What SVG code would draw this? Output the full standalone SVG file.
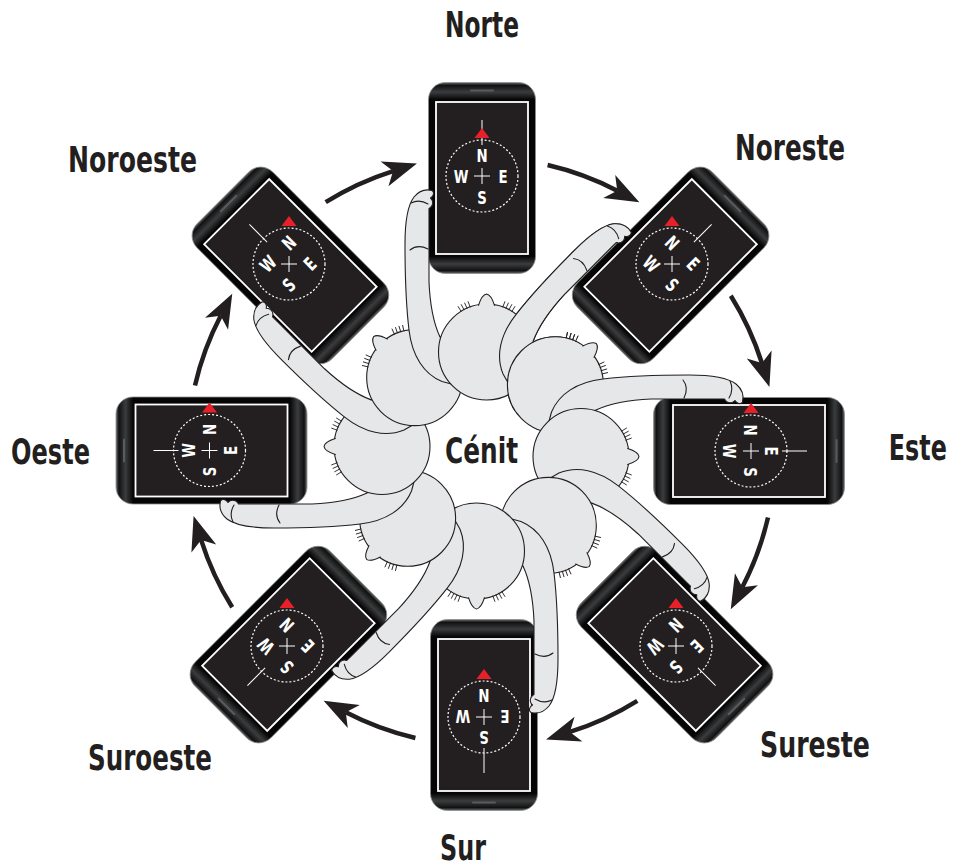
<svg xmlns="http://www.w3.org/2000/svg" xmlns:xlink="http://www.w3.org/1999/xlink" width="955" height="868" viewBox="0 0 955 868">
  <defs>
    <style>
      .lbl{font-family:"Liberation Sans Narrow","DejaVu Sans Condensed","Roboto Condensed","Liberation Sans",sans-serif;font-weight:700;font-size:36px;fill:#231f20;font-stretch:condensed}
      .cl{font-family:"Liberation Sans Narrow","DejaVu Sans Condensed","Roboto Condensed","Liberation Sans",sans-serif;font-weight:700;font-size:18.5px;fill:#fff;text-anchor:middle;font-stretch:condensed}
      .skin{fill:#e6e7e8;stroke:#231f20;stroke-width:1.1;stroke-linejoin:round}
      .line{fill:none;stroke:#231f20;stroke-width:1.1;stroke-linecap:round}
      .tick{fill:none;stroke:#231f20;stroke-width:0.9}
      .ring{fill:none;stroke:#fff;stroke-width:1.2;stroke-dasharray:2 2}
      .wl{fill:none;stroke:#fff;stroke-width:1}
      .arrow{fill:none;stroke:#231f20;stroke-width:4.5;marker-end:url(#head)}
      .needle{fill:#e8202a}
    </style>

    <!-- glossy black phone shell, shaded along its long axis -->
    <linearGradient id="bodyG" x1="0" y1="0" x2="0" y2="1">
      <stop offset="0" stop-color="#6a6b6d"/>
      <stop offset="0.015" stop-color="#111"/>
      <stop offset="0.05" stop-color="#3b3c3e"/>
      <stop offset="0.09" stop-color="#050505"/>
      <stop offset="0.91" stop-color="#050505"/>
      <stop offset="0.95" stop-color="#3b3c3e"/>
      <stop offset="0.985" stop-color="#111"/>
      <stop offset="1" stop-color="#6a6b6d"/>
    </linearGradient>

    <marker id="head" markerUnits="userSpaceOnUse" viewBox="0 -15 40 30" markerWidth="40" markerHeight="30" refX="9" refY="0" orient="auto" overflow="visible">
      <path d="M34,0 L0,-13 L9,0 L0,13 Z" fill="#231f20"/>
    </marker>

    <!-- phone drawn upright, origin at the compass centre -->
    <g id="phone">
      <rect x="-53.5" y="-93.5" width="107" height="191" rx="17" fill="url(#bodyG)" stroke="#8a8b8d" stroke-width="0.8"/>
      <rect x="-46" y="-74" width="92" height="152" fill="#231f20" stroke="#fff" stroke-width="1.8"/>
      <line x1="-11" y1="-85.5" x2="11" y2="-85.5" stroke="#5a5b5d" stroke-width="2" stroke-linecap="round"/>
      <line x1="0" y1="-31" x2="0" y2="-56" class="wl"/>
    </g>

    <!-- one person seen from above, facing the top phone -->
    <g id="person">
      <path class="skin" d="M429,214 L429,282 C430,305 433,322 440,337 L455,356 L466,380 L455,385 L442,381.5 C424,374 412,356 409,330 C406,305 405,272 405,244 C405,222 407,206 414,197 C419,191 426,189 432,190.5 C434.5,192 434,196 430.5,198 C433.5,200.5 433.5,205 430.5,207.5 L429,208.5 Z"/>
      <path class="line" d="M411,203 C417,200 423,201 428,204 M410,250 C415,246 422,246 428,249"/>
      <circle class="skin" cx="486.5" cy="352" r="48"/>
      <path fill="#e6e7e8" d="M478.5,306 C480.5,299 483,294.5 486.5,294 C490,294.5 492.5,299 494.5,306 L486.5,312 Z"/>
      <path class="line" d="M478.5,305.3 C480.5,299 483,294.5 486.5,294 C490,294.5 492.5,299 494.5,305.3"/>
      <path class="tick" d="M502.7,307.4 L505,301.3 M505.8,308.6 L508.5,302.7 M508.8,310.1 L511.9,304.3 M511.7,311.7 L515.1,306.2 M470.3,307.4 L468,301.3 M467.2,308.6 L464.5,302.7 M464.2,310.1 L461.1,304.3 M461.3,311.7 L457.9,306.2"/>
    </g>

    <clipPath id="wedge">
      <path d="M481.5,451.5 L537.2,55.4 L738.6,145.1 Z"/>
    </clipPath>
  </defs>

  <rect width="955" height="868" fill="#fff"/>

  <!-- phones with their compass dials -->
  <g id="phones">
    <g id="phone-norte" transform="translate(482,176)">
      <use xlink:href="#phone"/>
      <circle r="36" class="ring"/>
      <path d="M-8,0H8M0,-8V8" class="wl"/>
      <text class="cl" transform="translate(0,-21) scale(0.8,1)" y="6.5">N</text>
      <text class="cl" transform="translate(21,0) scale(0.8,1)" y="6.5">E</text>
      <text class="cl" transform="translate(0,21) scale(0.8,1)" y="6.5">S</text>
      <text class="cl" transform="translate(-21,0) scale(0.8,1)" y="6.5">W</text>
      <path class="needle" d="M0,-48 L-7.5,-38 L7.5,-38 Z"/>
    </g>
    <g id="phone-noreste" transform="translate(672,264)">
      <use xlink:href="#phone" transform="rotate(45)"/>
      <circle r="36" class="ring"/>
      <path d="M-8,0H8M0,-8V8" class="wl"/>
      <text class="cl" transform="translate(0,-21) rotate(45) scale(0.8,1)" y="6.5">N</text>
      <text class="cl" transform="translate(21,0) rotate(45) scale(0.8,1)" y="6.5">E</text>
      <text class="cl" transform="translate(0,21) rotate(45) scale(0.8,1)" y="6.5">S</text>
      <text class="cl" transform="translate(-21,0) rotate(45) scale(0.8,1)" y="6.5">W</text>
      <path class="needle" d="M0,-48 L-7.5,-38 L7.5,-38 Z"/>
    </g>
    <g id="phone-este" transform="translate(751,451)">
      <use xlink:href="#phone" transform="rotate(90)"/>
      <circle r="36" class="ring"/>
      <path d="M-8,0H8M0,-8V8" class="wl"/>
      <text class="cl" transform="translate(0,-21) rotate(90) scale(0.8,1)" y="6.5">N</text>
      <text class="cl" transform="translate(21,0) rotate(90) scale(0.8,1)" y="6.5">E</text>
      <text class="cl" transform="translate(0,21) rotate(90) scale(0.8,1)" y="6.5">S</text>
      <text class="cl" transform="translate(-21,0) rotate(90) scale(0.8,1)" y="6.5">W</text>
      <path class="needle" d="M0,-48 L-7.5,-38 L7.5,-38 Z"/>
    </g>
    <g id="phone-sureste" transform="translate(676,646)">
      <use xlink:href="#phone" transform="rotate(135)"/>
      <circle r="36" class="ring"/>
      <path d="M-8,0H8M0,-8V8" class="wl"/>
      <text class="cl" transform="translate(0,-21) rotate(135) scale(0.8,1)" y="6.5">N</text>
      <text class="cl" transform="translate(21,0) rotate(135) scale(0.8,1)" y="6.5">E</text>
      <text class="cl" transform="translate(0,21) rotate(135) scale(0.8,1)" y="6.5">S</text>
      <text class="cl" transform="translate(-21,0) rotate(135) scale(0.8,1)" y="6.5">W</text>
      <path class="needle" d="M0,-48 L-7.5,-38 L7.5,-38 Z"/>
    </g>
    <g id="phone-sur" transform="translate(484,717)">
      <use xlink:href="#phone" transform="rotate(180)"/>
      <circle r="36" class="ring"/>
      <path d="M-8,0H8M0,-8V8" class="wl"/>
      <text class="cl" transform="translate(0,-21) rotate(180) scale(0.8,1)" y="6.5">N</text>
      <text class="cl" transform="translate(21,0) rotate(180) scale(0.8,1)" y="6.5">E</text>
      <text class="cl" transform="translate(0,21) rotate(180) scale(0.8,1)" y="6.5">S</text>
      <text class="cl" transform="translate(-21,0) rotate(180) scale(0.8,1)" y="6.5">W</text>
      <path class="needle" d="M0,-48 L-7.5,-38 L7.5,-38 Z"/>
    </g>
    <g id="phone-suroeste" transform="translate(287,646)">
      <use xlink:href="#phone" transform="rotate(225)"/>
      <circle r="36" class="ring"/>
      <path d="M-8,0H8M0,-8V8" class="wl"/>
      <text class="cl" transform="translate(0,-21) rotate(225) scale(0.8,1)" y="6.5">N</text>
      <text class="cl" transform="translate(21,0) rotate(225) scale(0.8,1)" y="6.5">E</text>
      <text class="cl" transform="translate(0,21) rotate(225) scale(0.8,1)" y="6.5">S</text>
      <text class="cl" transform="translate(-21,0) rotate(225) scale(0.8,1)" y="6.5">W</text>
      <path class="needle" d="M0,-48 L-7.5,-38 L7.5,-38 Z"/>
    </g>
    <g id="phone-oeste" transform="translate(209.5,450.5)">
      <use xlink:href="#phone" transform="rotate(270)"/>
      <circle r="36" class="ring"/>
      <path d="M-8,0H8M0,-8V8" class="wl"/>
      <text class="cl" transform="translate(0,-21) rotate(270) scale(0.8,1)" y="6.5">N</text>
      <text class="cl" transform="translate(21,0) rotate(270) scale(0.8,1)" y="6.5">E</text>
      <text class="cl" transform="translate(0,21) rotate(270) scale(0.8,1)" y="6.5">S</text>
      <text class="cl" transform="translate(-21,0) rotate(270) scale(0.8,1)" y="6.5">W</text>
      <path class="needle" d="M0,-48 L-7.5,-38 L7.5,-38 Z"/>
    </g>
    <g id="phone-noroeste" transform="translate(289,264)">
      <use xlink:href="#phone" transform="rotate(315)"/>
      <circle r="36" class="ring"/>
      <path d="M-8,0H8M0,-8V8" class="wl"/>
      <text class="cl" transform="translate(0,-21) rotate(315) scale(0.8,1)" y="6.5">N</text>
      <text class="cl" transform="translate(21,0) rotate(315) scale(0.8,1)" y="6.5">E</text>
      <text class="cl" transform="translate(0,21) rotate(315) scale(0.8,1)" y="6.5">S</text>
      <text class="cl" transform="translate(-21,0) rotate(315) scale(0.8,1)" y="6.5">W</text>
      <path class="needle" d="M0,-48 L-7.5,-38 L7.5,-38 Z"/>
    </g>
  </g>

  <!-- ring of people, each one overlapping its counter-clockwise neighbour -->
  <g id="people">
    <use id="person-noreste" xlink:href="#person" transform="rotate(45 481.5 451.5)"/>
    <use id="person-este" xlink:href="#person" transform="rotate(90 481.5 451.5)"/>
    <use id="person-sureste" xlink:href="#person" transform="rotate(135 481.5 451.5)"/>
    <use id="person-sur" xlink:href="#person" transform="rotate(180 481.5 451.5)"/>
    <use id="person-suroeste" xlink:href="#person" transform="rotate(225 481.5 451.5)"/>
    <use id="person-oeste" xlink:href="#person" transform="rotate(270 481.5 451.5)"/>
    <use id="person-noroeste" xlink:href="#person" transform="rotate(315 481.5 451.5)"/>
    <use id="person-norte" xlink:href="#person"/>
    <g clip-path="url(#wedge)">
      <use xlink:href="#person" transform="rotate(45 481.5 451.5)"/>
    </g>
  </g>

  <!-- clockwise arrows between neighbouring phones -->
  <g id="connectors">
    <path class="arrow" d="M547.6,165 A294,294 0 0 1 617.2,190.7"/>
    <path class="arrow" d="M730.8,295.7 A294,294 0 0 1 761.9,363.1"/>
    <path class="arrow" d="M768,517.6 A294,294 0 0 1 742.3,587.2"/>
    <path class="arrow" d="M637.3,700.8 A294,294 0 0 1 569.9,731.9"/>
    <path class="arrow" d="M415.4,738 A294,294 0 0 1 345.8,712.3"/>
    <path class="arrow" d="M232.2,607.3 A294,294 0 0 1 201.1,539.9"/>
    <path class="arrow" d="M195,385.4 A294,294 0 0 1 220.7,315.8"/>
    <path class="arrow" d="M325.7,202.2 A294,294 0 0 1 393.1,171.1"/>
  </g>

  <!-- direction names -->
  <g id="labels">
    <text class="lbl" x="445" y="37" textLength="74" lengthAdjust="spacingAndGlyphs">Norte</text>
    <text class="lbl" x="735" y="160" textLength="110" lengthAdjust="spacingAndGlyphs">Noreste</text>
    <text class="lbl" transform="scale(0.8,1)" x="1111" y="460" textLength="72.5" lengthAdjust="spacingAndGlyphs">Este</text>
    <text class="lbl" x="760" y="757" textLength="110" lengthAdjust="spacingAndGlyphs">Sureste</text>
    <text class="lbl" x="440" y="860" textLength="46" lengthAdjust="spacingAndGlyphs">Sur</text>
    <text class="lbl" x="88" y="770" textLength="124" lengthAdjust="spacingAndGlyphs">Suroeste</text>
    <text class="lbl" x="11" y="464" textLength="79" lengthAdjust="spacingAndGlyphs">Oeste</text>
    <text class="lbl" x="68" y="172" textLength="129" lengthAdjust="spacingAndGlyphs">Noroeste</text>
    <text class="lbl" x="445" y="463" textLength="73" lengthAdjust="spacingAndGlyphs">Cénit</text>
  </g>
</svg>
